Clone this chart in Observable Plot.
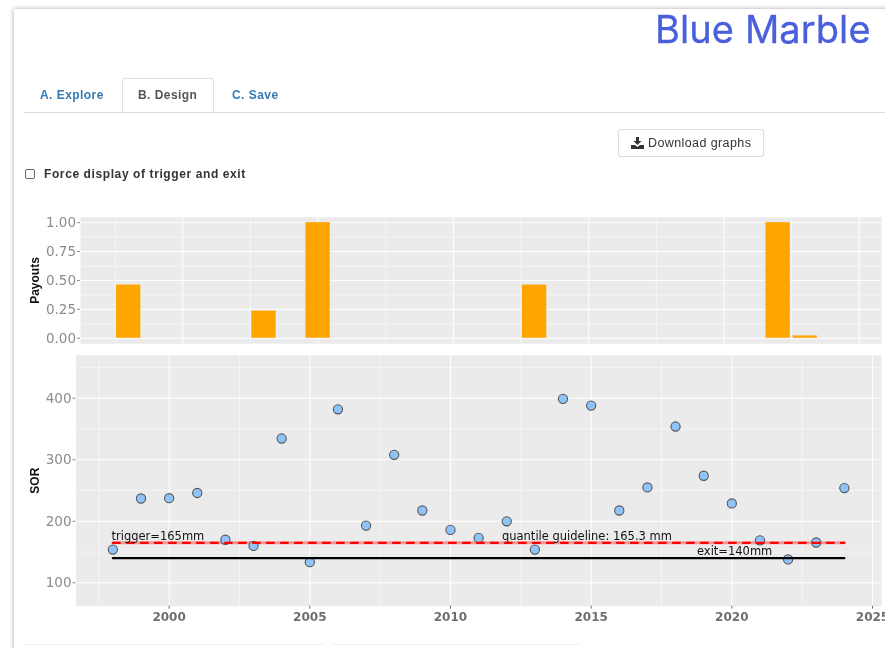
<!DOCTYPE html>
<html><head><meta charset="utf-8">
<script src="https://cdn.jsdelivr.net/npm/d3@7"></script>
<script src="https://cdn.jsdelivr.net/npm/@observablehq/plot@0.6"></script>
<style>
html,body{margin:0;padding:0;background:#fff;width:885px;height:648px;overflow:hidden;font-family:"Liberation Sans",sans-serif}
#page{position:relative;width:885px;height:648px;overflow:hidden;filter:blur(.4px)}
#card{position:absolute;left:14px;top:9px;width:900px;height:700px;background:#fff;box-shadow:0 0 5px rgba(0,0,0,.35)}
.abs{position:absolute;white-space:nowrap}
#logo{left:655px;top:6px;font:400 38px/46px Inter,sans-serif;color:#4a5fdc;-webkit-text-stroke:.3px #4a5fdc;letter-spacing:.1px}
.tab{font-weight:bold;font-size:12px;letter-spacing:.45px;color:#337ab7;top:88px;line-height:14px}
#tabline{left:24px;top:111.5px;width:861px;height:1px;background:#ddd}
#tabbox{left:122px;top:78px;width:92px;height:34px;background:#fff;border:1px solid #e2e2e2;border-bottom:none;border-radius:3px 3px 0 0;box-sizing:border-box}
#btn{left:618px;top:129px;width:146px;height:28px;box-sizing:border-box;background:#fff;border:1px solid #ddd;border-radius:3px;box-shadow:0 0 1px rgba(0,0,0,.15)}
#btntext{left:648px;top:136px;font-size:12.5px;letter-spacing:.4px;line-height:14px;color:#333}
#check{left:25px;top:169px;width:10px;height:10px;box-sizing:border-box;border:1px solid #666;border-radius:2px;background:#fff}
#checktext{left:44px;top:167px;font-weight:bold;font-size:12px;line-height:14px;letter-spacing:.6px;color:#333}
.plot{position:absolute;left:0}
.plot svg{display:block}
.foot{top:644px;height:1px;background:#f2f2f2}
</style></head><body>
<div id="page">
<div id="card"></div>
<div class="abs" id="logo">Blue Marble</div>
<div class="abs" id="tabline"></div>
<div class="abs" id="tabbox"></div>
<div class="abs tab" style="left:40px">A. Explore</div>
<div class="abs tab" style="left:138px;color:#555">B. Design</div>
<div class="abs tab" style="left:232px">C. Save</div>
<div class="abs" id="btn"></div>
<svg class="abs" style="left:631px;top:137px" width="13" height="12" viewBox="0 0 13 12"><path fill="#333" d="M5 0h3v4h2.5L6.5 8 2.5 4H5zM0 8h4l2.5 2L9 8h4v4H0z"/></svg>
<div class="abs" id="btntext">Download graphs</div>
<div class="abs" id="check"></div>
<div class="abs" id="checktext">Force display of trigger and exit</div>
<div class="plot" id="top" style="top:205px"></div>
<div class="plot" id="bottom" style="top:345px"></div>
<div class="abs foot" style="left:24px;width:301px"></div>
<div class="abs foot" style="left:332px;width:248px"></div>
</div>
<script>
const payoutYears = [1998, 2003, 2005, 2013, 2022, 2023];
const payoutValues = [0.46, 0.235, 1.0, 0.46, 1.0, 0.02];
const payoutTicks = [0, 0.25, 0.5, 0.75, 1];
const payoutMinorTicks = [0.125, 0.375, 0.625, 0.875];

const years = [1998,1999,2000,2001,2002,2003,2004,2005,2006,2007,2008,2009,2010,2011,2012,2013,2014,2015,2016,2017,2018,2019,2020,2021,2022,2023,2024];
const sor = [154,237,237.5,246,170,160,334.5,133.5,382,193,308,217.5,186,173,200,154,399,388,217.5,255,354,274,229,169,138,165.5,254];
const sorTicks = [100,200,300,400];
const sorMinorTicks = [150,250,350,450];

const xMajor = [2000,2005,2010,2015,2020,2025];
const xMinor = [1997.5,2002.5,2007.5,2012.5,2017.5,2022.5];
const lineSpan = [1998, 2024];
const triggerValue = 165;
const guidelineValue = 165.3;
const exitValue = 140;
const notes = ["trigger=165mm","quantile guideline: 165.3 mm","exit=140mm"];
const noteX = [1999.6,2014.85,2020.1];
const noteY = [175,175,151];

const tickFont = '"DejaVu Sans",sans-serif';
const panel = "#ebebeb";

function grid(xs, ys, major) {
  return [
    Plot.ruleX(xs, {x: d => d, stroke: "#fff", strokeWidth: major ? 1 : 0.5}),
    Plot.ruleY(ys, {y: d => d, stroke: "#fff", strokeWidth: major ? 1 : 0.5})
  ];
}

const topPlot = Plot.plot({
  width: 885, height: 140,
  marginLeft: 80, marginRight: 4, marginTop: 11.7, marginBottom: 1.7,
  style: {background: "transparent", fontFamily: tickFont},
  x: {domain: [1996.22, 2025.82], axis: null},
  y: {domain: [-0.048, 1.047], axis: null},
  marks: [
    Plot.frame({fill: panel, stroke: "none"}),
    ...grid(xMinor, payoutMinorTicks, false),
    ...grid(xMajor, payoutTicks, true),
    Plot.rectY(payoutYears.map((y, i) => ({y0: y - 0.45, y1: y + 0.45, v: payoutValues[i]})),
      {x1: "y0", x2: "y1", y1: 0, y2: "v", fill: "#ffa500"}),
    Plot.axisY(payoutTicks, {tickFormat: d3.format(".2f"), tickSize: 3, tickPadding: 1.5, fontSize: 13.5, color: "#8c8c8c", label: null}),
    Plot.text(["Payouts"], {frameAnchor: "left", textAnchor: "middle", dx: -45, rotate: -90, fontSize: 12, fill: "#111", fontWeight: "bold", fontFamily: "Liberation Sans"})
  ]
});
document.getElementById("top").append(topPlot);

const bottomPlot = Plot.plot({
  width: 885, height: 295,
  marginLeft: 75.5, marginRight: 4, marginTop: 9.7, marginBottom: 34.3,
  style: {background: "transparent", fontFamily: tickFont},
  x: {domain: [1996.69, 2025.32], axis: null},
  y: {domain: [62, 469.9], axis: null},
  marks: [
    Plot.frame({fill: panel, stroke: "none"}),
    ...grid(xMinor, sorMinorTicks, false),
    ...grid(xMajor, sorTicks, true),
    Plot.line(lineSpan.map(x => ({x, y: guidelineValue})), {x: "x", y: "y", stroke: "#ff0000", strokeOpacity: 0.35, strokeWidth: 3}),
    Plot.dot(years.map((x, i) => ({x, y: sor[i]})), {x: "x", y: "y", r: 4.6, fill: "#90c4f8", stroke: "#555", strokeWidth: 1.1}),
    Plot.line(lineSpan.map(x => ({x, y: triggerValue})), {x: "x", y: "y", stroke: "#ff0000", strokeWidth: 2.2, strokeDasharray: "7,7"}),
    Plot.line(lineSpan.map(x => ({x, y: exitValue})), {x: "x", y: "y", stroke: "#000", strokeWidth: 2.2}),
    Plot.text(notes, {x: (d, i) => noteX[i], y: (d, i) => noteY[i], text: d => d, fontSize: 11.5, fill: "#111"}),
    Plot.axisY(sorTicks, {tickSize: 3, tickPadding: 1.5, fontSize: 13.5, color: "#8c8c8c", label: null}),
    Plot.axisX(xMajor, {tickSize: 3, tickPadding: 3, fontSize: 12, fontWeight: "bold", color: "#6e6e6e", label: null, tickFormat: d3.format("d")}),
    Plot.text(["SOR"], {frameAnchor: "left", textAnchor: "middle", dx: -40.5, rotate: -90, fontSize: 12, fill: "#111", fontWeight: "bold", fontFamily: "Liberation Sans"})
  ]
});
document.getElementById("bottom").append(bottomPlot);
</script>
</body></html>
